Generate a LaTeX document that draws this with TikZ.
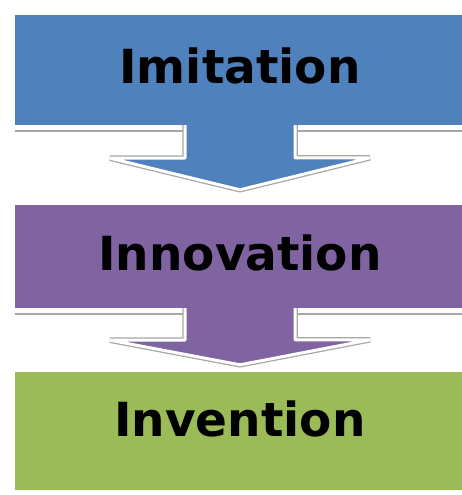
\documentclass[tikz,border=0pt]{standalone}
\usepackage{fontspec}
\setmainfont{DejaVu Sans}
\usetikzlibrary{backgrounds}
\definecolor{Steel}{HTML}{4F81BD}
\definecolor{Plum}{HTML}{8064A2}
\definecolor{Olive}{HTML}{9BBB59}
\definecolor{Rim}{HTML}{A6A6A6}

\begin{document}
\begin{tikzpicture}[x=1pt, y=-1pt,
  box/.style={minimum width=450pt, inner sep=0pt, text=black,
     font=\fontsize{47}{50}\selectfont\bfseries},
  rim/.style={Rim, line width=1.5pt},
  flow/.style={fill=#1, draw=white, line width=3pt, line join=bevel,
     preaction={draw=Rim, line width=5.5pt, line join=bevel}}]
  \useasboundingbox (0,0) rectangle (461,495);
  \node[box, fill=Steel, minimum height=110pt, text depth=8pt] (imit) at (240,70) {Imitation};
  \node[box, fill=Plum, minimum height=103pt, text depth=7pt] (innov) at (240,256.5) {Innovation};
  \node[box, fill=Olive, minimum height=118pt, text depth=24pt] (inven) at (240,431) {Invention};
  \begin{scope}[on background layer]
    \draw[rim] ([yshift=-6pt]imit.south west) -- ([yshift=-6pt]imit.south east);
    \draw[rim] ([yshift=-6pt]innov.south west) -- ([yshift=-6pt]innov.south east);
    \draw[flow=Steel] ([shift={(-55,-10)}]imit.south) -- ++(0,43) -- ++(-75,0)
          -- ([yshift=15pt]innov.north) -- ++(130,-32) -- ++(-75,0) -- ++(0,-43) -- cycle;
    \draw[flow=Plum] ([shift={(-55,-10)}]innov.south) -- ++(0,42) -- ++(-75,0)
          -- ([yshift=7pt]inven.north) -- ++(130,-25) -- ++(-75,0) -- ++(0,-42) -- cycle;
  \end{scope}
\end{tikzpicture}
\end{document}
